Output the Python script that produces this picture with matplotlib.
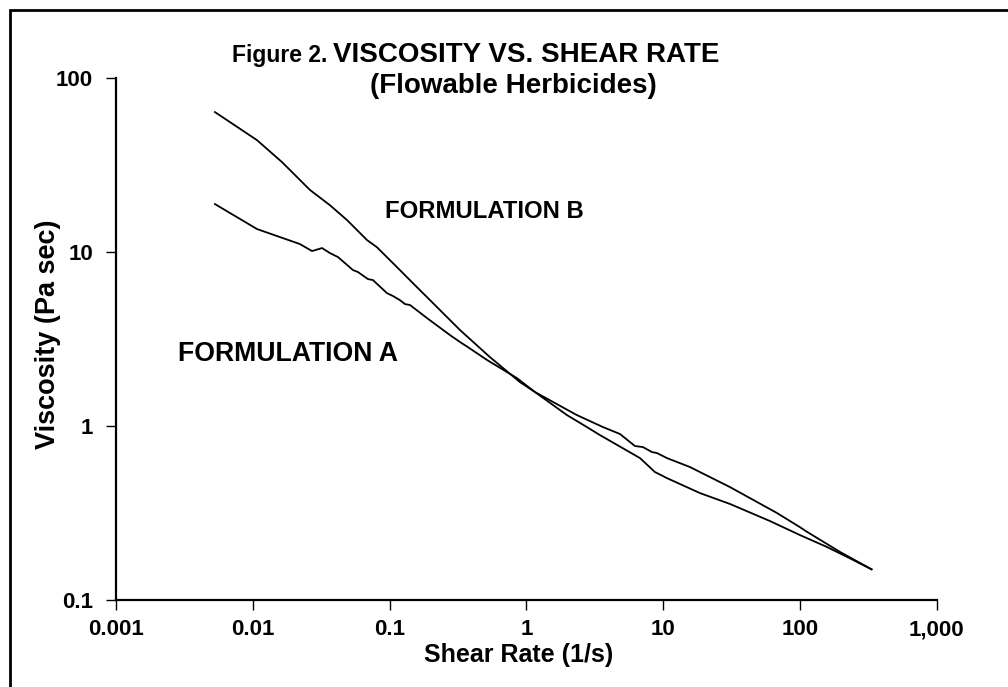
import matplotlib
matplotlib.use("Agg")
import matplotlib.pyplot as plt
from matplotlib.patches import Rectangle
from matplotlib.ticker import FixedLocator, FixedFormatter, NullLocator

# ---- data ----
shear_a = [0.00529, 0.01073, 0.0221, 0.0271, 0.0321, 0.0366, 0.0420, 0.054, 0.0587,
           0.0695, 0.0756, 0.0957, 0.106, 0.119, 0.1297, 0.141, 0.1875, 0.2764, 0.327,
           0.374, 0.515, 0.853, 1.156, 2.34, 3.63, 4.83, 6.22, 7.12, 8.28, 9.01, 10.66,
           15.7, 30.8, 67.9, 100, 112, 196, 334]
visc_a = [18.76, 13.49, 11.06, 10.08, 10.49, 9.82, 9.31, 7.84, 7.64,
          6.96, 6.87, 5.78, 5.56, 5.27, 5.00, 4.94, 4.16, 3.32, 3.03,
          2.83, 2.39, 1.88, 1.563, 1.153, 0.984, 0.898, 0.766, 0.755, 0.707, 0.698, 0.653,
          0.580, 0.445, 0.316, 0.262, 0.247, 0.189, 0.150]

shear_b = [0.00529, 0.01073, 0.01634, 0.0262, 0.0366, 0.0488, 0.0684, 0.0809, 0.119,
           0.148, 0.2075, 0.327, 0.542, 0.897, 1.156, 1.98, 2.77, 3.45, 6.77, 8.71,
           10.66, 18.6, 30.8, 60.4, 100, 156.7, 232, 334]
visc_b = [63.3, 43.7, 32.7, 22.6, 18.5, 15.2, 11.66, 10.6, 7.84,
          6.60, 5.07, 3.55, 2.48, 1.784, 1.563, 1.153, 0.984, 0.885, 0.653, 0.543,
          0.501, 0.411, 0.356, 0.284, 0.236, 0.202, 0.1735, 0.150]

x_ticks = [0.001, 0.01, 0.1, 1, 10, 100, 1000]
x_tick_labels = ["0.001", "0.01", "0.1", "1", "10", "100", "1,000"]
y_ticks = [0.1, 1, 10, 100]
y_tick_labels = ["0.1", "1", "10", "100"]

title_small = "Figure 2."
title_main = "VISCOSITY VS. SHEAR RATE"
title_sub = "(Flowable Herbicides)"
x_label = "Shear Rate (1/s)"
y_label = "Viscosity (Pa sec)"
label_a = "FORMULATION A"
label_b = "FORMULATION B"

plt.rcParams['font.family'] = ['Liberation Sans', 'DejaVu Sans']
plt.rcParams['font.weight'] = 'bold'

W, H = 1008, 687
fig = plt.figure(figsize=(W / 100, H / 100), dpi=100)
fig.patch.set_facecolor('white')

def fx(px):
    return px / W

def fy(py):
    return 1 - py / H

ax = fig.add_axes([fx(116), fy(600), fx(936.7) - fx(116), fy(77.5) - fy(600)])
ax.set_xscale('log')
ax.set_yscale('log')
ax.set_xlim(0.001, 1000)
ax.set_ylim(0.1, 100)

ax.plot(shear_a, visc_a, color='black', lw=1.3, solid_joinstyle='round')
ax.plot(shear_b, visc_b, color='black', lw=1.3, solid_joinstyle='round')

for s in ['top', 'right']:
    ax.spines[s].set_visible(False)
for s in ['left', 'bottom']:
    ax.spines[s].set_linewidth(1.6)
    ax.spines[s].set_color('black')

ax.xaxis.set_major_locator(FixedLocator(x_ticks))
ax.xaxis.set_major_formatter(FixedFormatter(x_tick_labels))
ax.xaxis.set_minor_locator(NullLocator())
ax.yaxis.set_major_locator(FixedLocator(y_ticks))
ax.yaxis.set_major_formatter(FixedFormatter(y_tick_labels))
ax.yaxis.set_minor_locator(NullLocator())

ax.tick_params(axis='x', direction='out', length=7.5, width=1.0, pad=6.5,
               labelsize=16, colors='black')
ax.tick_params(axis='y', direction='out', length=7.5, width=1.0, pad=9,
               labelsize=16, colors='black')
for lab in ax.get_xticklabels() + ax.get_yticklabels():
    lab.set_fontweight('bold')

# axis labels
fig.text(fx(519), fy(655), x_label, ha='center', va='center',
         fontsize=18, fontweight='bold')
fig.text(fx(48), fy(334), y_label, ha='center', va='center', rotation=90,
         fontsize=19.5, fontweight='bold')

# title
fig.text(fx(232), fy(61.7), title_small, ha='left', va='baseline',
         fontsize=16.5, fontweight='bold')
fig.text(fx(333), fy(61.7), title_main, ha='left', va='baseline',
         fontsize=20, fontweight='bold')
fig.text(fx(370), fy(93.3), title_sub, ha='left', va='baseline',
         fontsize=20, fontweight='bold')

# series labels
fig.text(fx(385), fy(218), label_b, ha='left', va='baseline',
         fontsize=17.2, fontweight='bold')
fig.text(fx(178), fy(361), label_a, ha='left', va='baseline',
         fontsize=19.2, fontweight='bold')

# outer frame (extends past right and bottom edges)
frame = Rectangle((fx(10), fy(H + 20)), fx(W + 40), fy(10) - fy(H + 20),
                  transform=fig.transFigure, fill=False, edgecolor='black',
                  linewidth=2.0, clip_on=False)
fig.patches.append(frame)

fig.savefig("out.png", dpi=100, facecolor='white')
